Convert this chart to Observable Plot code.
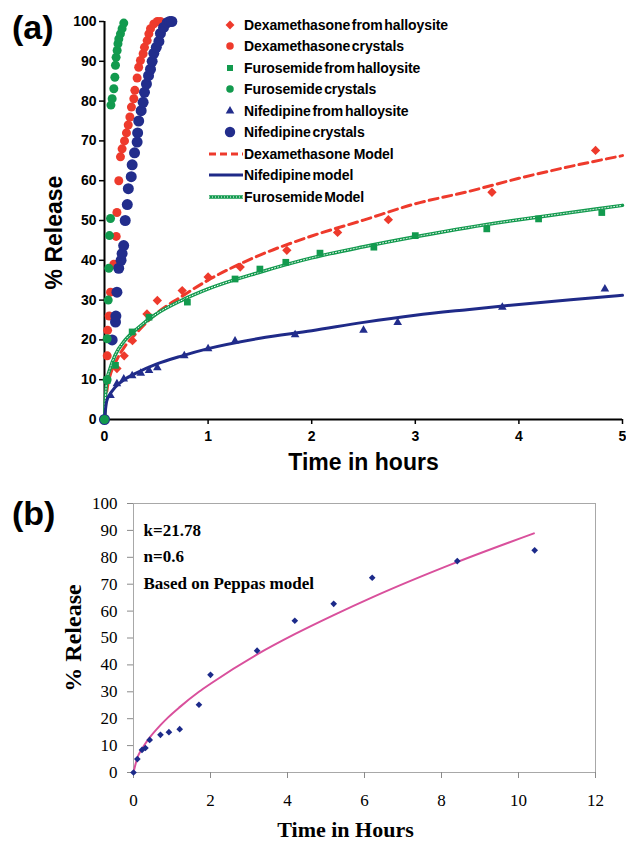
<!DOCTYPE html>
<html><head><meta charset="utf-8">
<script src="https://cdn.jsdelivr.net/npm/d3@7"></script>
<script src="https://cdn.jsdelivr.net/npm/@observablehq/plot@0.6"></script>
<style>
body{margin:0;background:#fff;}
#root{position:relative;width:626px;height:842px;overflow:hidden;background:#fff;}
#a,#b{position:absolute;left:0;}
#a{top:0px}
#b{top:480px}
#over{position:absolute;left:0;top:0;pointer-events:none;}
</style></head><body>
<div id="root"><div id="a"></div><div id="b"></div>
<svg id="over" width="626" height="842">
  <text x="12" y="39" font-family="Liberation Sans, Arial, sans-serif" font-weight="bold" font-size="34">(a)</text>
  <text x="12" y="525" font-family="Liberation Sans, Arial, sans-serif" font-weight="bold" font-size="34">(b)</text>
</svg>
</div>
<script>
// ---------- Panel (a) data ----------
const xTicksA = [0, 1, 2, 3, 4, 5];
const yTicksA = [0, 10, 20, 30, 40, 50, 60, 70, 80, 90, 100];

const dexHallT = [0, 0.12, 0.19, 0.27, 0.41, 0.51, 0.75, 1.0, 1.31, 1.76, 2.25, 2.74, 3.74, 4.74];
const dexHallV = [0, 12.8, 16, 19.8, 26.5, 29.9, 32.4, 35.8, 38.3, 42.5, 47, 50.2, 57.1, 67.6];

const dexCrysT = [0, 0.026, 0.03, 0.045, 0.058, 0.09, 0.113, 0.12, 0.138, 0.154, 0.17, 0.193, 0.212, 0.229, 0.245, 0.26, 0.283, 0.293, 0.315, 0.33, 0.347, 0.373, 0.386, 0.412, 0.428, 0.444, 0.476, 0.51, 0.54];
const dexCrysV = [0, 16, 22.4, 26, 32, 39, 46, 52, 60, 66, 68, 70, 72, 74, 76, 78.5, 80.6, 82.7, 85.8, 88.5, 90.2, 91.9, 93.5, 95.2, 96.9, 98.2, 99.4, 100, 100];

const furHallT = [0, 0.026, 0.106, 0.267, 0.43, 0.8, 1.26, 1.5, 1.75, 2.08, 2.6, 3.0, 3.69, 4.19, 4.8];
const furHallV = [0, 9.8, 13.6, 22, 25.7, 29.5, 35.3, 37.8, 39.5, 41.8, 43.3, 46.2, 47.9, 50.4, 52];

const furCrysT = [0, 0.025, 0.026, 0.036, 0.042, 0.048, 0.058, 0.062, 0.074, 0.09, 0.1, 0.106, 0.112, 0.122, 0.13, 0.138, 0.154, 0.17, 0.186];
const furCrysV = [0, 10, 20.3, 30, 38, 46.2, 50.5, 79, 80.6, 83.1, 86, 89, 91, 92.7, 94.4, 95.6, 96.9, 98.2, 99.6];

const nifHallT = [0, 0.058, 0.12, 0.186, 0.267, 0.35, 0.43, 0.51, 0.77, 1.0, 1.26, 1.84, 2.5, 2.83, 3.84, 4.83];
const nifHallV = [0, 6, 9, 10.2, 11, 11.6, 12.3, 13, 16, 17.8, 19.7, 21.3, 22.4, 24.4, 28.2, 32.8];

const nifCrysT = [0, 0.074, 0.106, 0.11, 0.12, 0.137, 0.16, 0.17, 0.185, 0.2, 0.22, 0.23, 0.258, 0.267, 0.29, 0.315, 0.32, 0.33, 0.354, 0.373, 0.386, 0.405, 0.425, 0.444, 0.46, 0.476, 0.5, 0.525, 0.54, 0.57, 0.605, 0.63, 0.65];
const nifCrysV = [0, 20, 24.5, 26, 32, 38, 40, 41.7, 43.7, 50, 54, 58, 61, 64, 67, 69.7, 72, 75, 77.6, 79.7, 82.2, 84.3, 86.4, 88, 90, 92, 93.5, 95, 97, 98.5, 99.7, 100, 100];

const modelT = [0, 0.02, 0.05, 0.1, 0.2, 0.3, 0.5, 0.75, 1, 1.5, 2, 2.5, 3, 3.5, 4, 4.5, 5];
const dexModelV = [0, 6.5, 10.7, 14, 18.5, 21.5, 26.6, 31, 35, 41.3, 46.1, 50.1, 54.2, 57.2, 60.6, 63.6, 66.3];
const nifModelV = [0, 4.5, 6.2, 8, 10.2, 11.6, 13.9, 16, 17.8, 20.4, 22.3, 24.4, 26.2, 27.6, 28.9, 30.1, 31.2];
const furModelV = [0, 9.5, 12.5, 16, 20, 22.5, 26.5, 30, 32.8, 37, 40.6, 43.4, 45.9, 48.2, 50.2, 52, 53.8];

const legendLabels = [
  "Dexamethasone from halloysite", "Dexamethasone crystals", "Furosemide from halloysite",
  "Furosemide crystals", "Nifedipine from halloysite", "Nifedipine crystals",
  "Dexamethasone  Model", "Nifedipine model", "Furosemide Model"
];

// ---------- Panel (b) data ----------
const xTicksB = [0, 2, 4, 6, 8, 10, 12];
const yTicksB = [0, 10, 20, 30, 40, 50, 60, 70, 80, 90, 100];
const bT = [0, 0.1, 0.22, 0.31, 0.42, 0.7, 0.92, 1.2, 1.7, 2.0, 3.21, 4.19, 5.2, 6.2, 8.41, 10.42];
const bV = [0, 5, 8.4, 9.1, 12.1, 14, 15, 16.1, 25.2, 36.3, 45.3, 56.4, 62.7, 72.4, 78.6, 82.6];
const bModelT = [0, 0.1, 0.2, 0.3, 0.4, 0.7, 0.9, 1.2, 1.7, 2, 3.2, 4.2, 5.2, 6.2, 8.4, 10.4];
const bModelV = [0, 5.5, 8.3, 10.6, 12.6, 17.6, 20.5, 24.3, 30, 33, 43.8, 51.5, 58.5, 65.1, 78.2, 88.9];
const bNotes = ["k=21.78", "n=0.6", "Based on Peppas model"];

// ---------- helpers ----------
const pts = (T, V) => T.map((t, i) => ({t, v: V[i]}));
const RED = "#ee3a2c", GREEN = "#129a4e", BLUE = "#222d8c", LBLUE = "#1f2a88";

const plotA = Plot.plot({
  width: 626, height: 475,
  marginLeft: 104, marginRight: 4, marginTop: 21, marginBottom: 56,
  x: {domain: [0, 5]},
  y: {domain: [0, 100]},
  style: {fontFamily: "Liberation Sans, Arial, sans-serif", fontWeight: "bold", fontSize: "14px", color: "#000", background: "transparent", overflow: "visible"},
  marks: [
    Plot.axisY({ticks: yTicksA, tickFormat: "d", tickSize: 5, tickPadding: 3, label: null, strokeWidth: 1.5, fontSize: 14, fontWeight: "bold"}),
    Plot.axisX({ticks: xTicksA, tickFormat: "d", tickSize: 5, tickPadding: 7, label: null, strokeWidth: 1.5, fontSize: 14, fontWeight: "bold"}),
    Plot.ruleX([0], {stroke: "#000", strokeWidth: 2}),
    Plot.ruleY([0], {stroke: "#000", strokeWidth: 2}),
    Plot.line(pts(modelT, dexModelV), {x: "t", y: "v", stroke: RED, strokeWidth: 3, strokeDasharray: "9,5", curve: "monotone-x"}),
    Plot.line(pts(modelT, furModelV), {x: "t", y: "v", stroke: GREEN, strokeWidth: 3.5, curve: "monotone-x"}),
    Plot.line(pts(modelT, furModelV), {x: "t", y: "v", stroke: "#fff", strokeWidth: 1, strokeDasharray: "1,2", curve: "monotone-x"}),
    Plot.line(pts(modelT, nifModelV), {x: "t", y: "v", stroke: LBLUE, strokeWidth: 3, curve: "monotone-x"}),
    Plot.dot(pts(dexHallT, dexHallV), {x: "t", y: "v", symbol: "diamond2", r: 4.2, fill: RED, stroke: "none"}),
    Plot.dot(pts(furHallT, furHallV), {x: "t", y: "v", symbol: "square", r: 3.8, fill: GREEN, stroke: "none"}),
    Plot.dot(pts(nifHallT, nifHallV), {x: "t", y: "v", symbol: "triangle", r: 3.2, fill: BLUE, stroke: "none"}),
    Plot.dot(pts(dexCrysT, dexCrysV), {x: "t", y: "v", symbol: "circle", r: 4.5, fill: RED, stroke: "none"}),
    Plot.dot(pts(nifCrysT, nifCrysV), {x: "t", y: "v", symbol: "circle", r: 5.5, fill: BLUE, stroke: "none"}),
    Plot.dot(pts(furCrysT, furCrysV), {x: "t", y: "v", symbol: "circle", r: 4.5, fill: GREEN, stroke: "none"}),
    Plot.text(["% Release"], {frameAnchor: "left", textAnchor: "middle", lineAnchor: "middle", dx: -50, dy: 12, rotate: -90, fontSize: 23, fontWeight: "bold"}),
    Plot.text(["Time in hours"], {frameAnchor: "bottom", lineAnchor: "middle", dy: 43, fontSize: 23, fontWeight: "bold"})
  ]
});
document.getElementById("a").appendChild(plotA);

// legend (inside panel a)
{
  const svg = d3.select(plotA);
  const g = svg.append("g").attr("text-anchor", "start");
  const rows = [25, 46, 68, 89, 111, 132, 154, 175, 197];
  const mx = 230, tx = 244;
  const sym = (type, size, color, y) => g.append("path").attr("d", d3.symbol(type, size)()).attr("transform", `translate(${mx},${y})`).attr("fill", color);
  sym(d3.symbolDiamond2, 50, RED, rows[0]);
  sym(d3.symbolCircle, 44, RED, rows[1]);
  sym(d3.symbolSquare, 36, GREEN, rows[2]);
  sym(d3.symbolCircle, 44, GREEN, rows[3]);
  sym(d3.symbolTriangle, 32, BLUE, rows[4]);
  sym(d3.symbolCircle, 85, BLUE, rows[5]);
  g.append("line").attr("x1", 209).attr("x2", 243).attr("y1", rows[6]).attr("y2", rows[6]).attr("stroke", RED).attr("stroke-width", 3).attr("stroke-dasharray", "7,4");
  g.append("line").attr("x1", 209).attr("x2", 243).attr("y1", rows[7]).attr("y2", rows[7]).attr("stroke", LBLUE).attr("stroke-width", 3);
  g.append("line").attr("x1", 209).attr("x2", 243).attr("y1", rows[8]).attr("y2", rows[8]).attr("stroke", GREEN).attr("stroke-width", 3.5);
  g.append("line").attr("x1", 209).attr("x2", 243).attr("y1", rows[8]).attr("y2", rows[8]).attr("stroke", "#fff").attr("stroke-width", 1).attr("stroke-dasharray", "1,2");
  legendLabels.forEach((s, i) => {
    g.append("text").attr("x", tx).attr("y", rows[i]).attr("dy", "0.35em").attr("text-anchor", "start")
      .attr("font-family", "Liberation Sans, Arial, sans-serif").attr("font-weight", "bold")
      .attr("font-size", 14).attr("letter-spacing", "-0.1").attr("word-spacing", "-2")
      .attr("fill", "#000").attr("xml:space", "preserve").text(s);
  });
}

// ---------- Panel (b) ----------
const plotB = Plot.plot({
  width: 626, height: 362,
  marginLeft: 133, marginRight: 31, marginTop: 23, marginBottom: 70,
  x: {domain: [0, 12]},
  y: {domain: [0, 100]},
  style: {fontFamily: "Liberation Serif, Times New Roman, serif", fontSize: "17px", color: "#000", background: "transparent", overflow: "visible"},
  marks: [
    Plot.frame({stroke: "#a8a8a8", strokeWidth: 1}),
    Plot.axisY({ticks: yTicksB, tickFormat: "d", tickSize: 6, tickPadding: 10, label: null, stroke: "#8a8a8a", fill: "#000", fontSize: 17}),
    Plot.axisX({ticks: xTicksB, tickFormat: "d", tickSize: 6, tickPadding: 15, label: null, stroke: "#8a8a8a", fill: "#000", fontSize: 17}),
    Plot.line(pts(bModelT, bModelV), {x: "t", y: "v", stroke: "#d9509c", strokeWidth: 2, curve: "monotone-x"}),
    Plot.dot(pts(bT, bV), {x: "t", y: "v", symbol: "diamond2", r: 3, fill: "#1c2a8a", stroke: "none"}),
    Plot.text([bNotes[0]], {frameAnchor: "top-left", lineAnchor: "middle", dx: 10, dy: 27, textAnchor: "start", fontSize: 17, fontWeight: "bold"}),
    Plot.text([bNotes[1]], {frameAnchor: "top-left", lineAnchor: "middle", dx: 10, dy: 53, textAnchor: "start", fontSize: 17, fontWeight: "bold"}),
    Plot.text([bNotes[2]], {frameAnchor: "top-left", lineAnchor: "middle", dx: 10, dy: 80, textAnchor: "start", fontSize: 17, fontWeight: "bold"}),
    Plot.text(["% Release"], {frameAnchor: "left", textAnchor: "middle", lineAnchor: "middle", dx: -60, dy: 0, rotate: -90, fontSize: 24, fontWeight: "bold"}),
    Plot.text(["Time in Hours"], {frameAnchor: "bottom", lineAnchor: "middle", dx: -19, dy: 57, fontSize: 22, fontWeight: "bold"})
  ]
});
document.getElementById("b").appendChild(plotB);
</script>
</body></html>
